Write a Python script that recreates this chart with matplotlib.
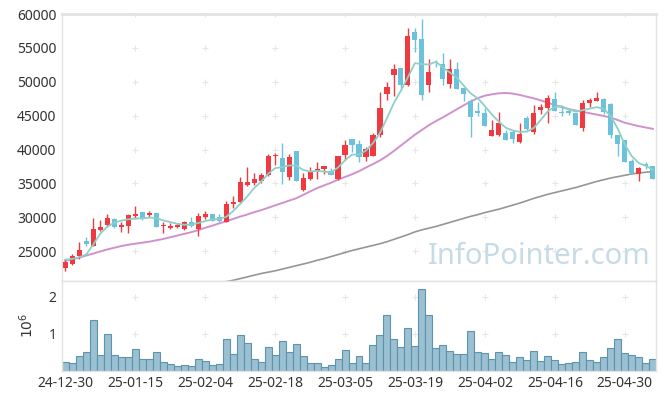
import numpy as np
import matplotlib.pyplot as plt

# -------------------------------
# DATA
# -------------------------------

tick_labels = ["24-12-30", "25-01-15", "25-02-04", "25-02-18", "25-03-05",
               "25-03-19", "25-04-02", "25-04-16", "25-04-30"]

opens = [22550, 23100, 24250, 26500, 25800, 28100, 28800, 29750, 28600, 28750,
         30200, 30800, 30400, 30650, 28650, 28350, 28550, 28250, 29250, 28300,
         30000, 30500, 30000, 29350, 31950, 32250, 34800, 35100, 35400, 36300,
         39100, 38800, 36000, 39850, 34050, 35700, 36850, 37200, 36900, 35600,
         39250, 41600, 40850, 38850, 39000, 42100, 48150, 51000, 52000, 49500,
         57300, 56300, 49500, 52950, 52600, 49600, 51850, 49050, 47150, 45700,
         45450, 42050, 42100, 42500, 42600, 41050, 44600, 42550, 45800, 46100,
         47400, 45600, 45650, 45400, 43150, 46850, 47200, 47400, 46750, 42200,
         41450, 38250, 36400, 37850, 37600]
highs = [23900, 24550, 26350, 27050, 29900, 29550, 30500, 29950, 29250, 30550,
         31700, 30850, 31000, 30650, 29250, 29200, 29150, 29500, 30000, 30600,
         30950, 30500, 30450, 32400, 33100, 35900, 37400, 36600, 36600, 39400,
         39500, 41000, 39350, 39850, 36600, 37350, 38150, 37600, 37250, 39100,
         41400, 41600, 41450, 40400, 42450, 48500, 49950, 52550, 52000, 57900,
         57900, 59300, 53400, 53200, 54300, 53400, 52850, 49050, 47400, 47050,
         46150, 44300, 45500, 42950, 42950, 43850, 44900, 46500, 46700, 48000,
         48550, 46250, 46150, 45400, 47300, 47650, 48500, 47600, 46900, 42200,
         41450, 38600, 37400, 38150, 37600]
lows = [22100, 22900, 23850, 25750, 25800, 28000, 28600, 28450, 27800, 27750,
        29950, 29650, 30000, 28600, 27700, 28250, 28450, 28100, 28500, 27300,
        29800, 29500, 29300, 29300, 31350, 32050, 34650, 34800, 35050, 36150,
        37700, 34950, 35550, 35400, 33950, 35550, 35700, 36450, 36200, 35550,
        38400, 39650, 38150, 38250, 39000, 41900, 47250, 47900, 48900, 49350,
        54450, 47250, 48550, 52200, 49500, 49150, 48950, 47150, 41850, 44900,
        43450, 41950, 42000, 41350, 40950, 40950, 42700, 42300, 45300, 43950,
        45650, 45000, 45100, 43600, 42800, 46300, 47150, 45300, 41700, 39100,
        38100, 36350, 35350, 37100, 35650]
closes = [23400, 24350, 25150, 26050, 28250, 28550, 29900, 28550, 28900, 30400,
          30550, 29750, 30650, 28600, 28900, 28700, 28900, 29250, 28700, 30200,
          30500, 29500, 29400, 31950, 32300, 35250, 35250, 35700, 36200, 39100,
          39250, 36750, 38900, 35400, 35850, 36850, 37150, 37500, 36300, 39100,
          40700, 40700, 38850, 40150, 42200, 46200, 49200, 51850, 49500, 56700,
          56200, 48050, 51400, 52700, 50400, 51850, 48950, 48200, 44800, 45350,
          43450, 42950, 43850, 41350, 41500, 42350, 43100, 45400, 46300, 47650,
          45650, 45450, 45400, 43600, 46900, 47250, 47650, 45600, 42100, 40850,
          38100, 36600, 37250, 37500, 35650]

# volume in millions
volumes = [0.23, 0.20, 0.39, 0.50, 1.36, 0.41, 0.98, 0.41, 0.36, 0.36,
           0.58, 0.31, 0.31, 0.50, 0.23, 0.17, 0.12, 0.14, 0.12, 0.31,
           0.25, 0.14, 0.17, 0.85, 0.44, 0.95, 0.74, 0.31, 0.23, 0.63,
           0.41, 0.79, 0.50, 0.71, 0.39, 0.20, 0.20, 0.09, 0.14, 0.31,
           0.55, 0.20, 0.39, 0.20, 0.68, 0.95, 1.50, 0.85, 0.63, 1.14,
           0.66, 2.20, 1.50, 0.60, 0.68, 0.52, 0.44, 0.44, 1.06, 0.50,
           0.47, 0.31, 0.50, 0.41, 0.23, 0.36, 0.28, 0.52, 0.25, 0.39,
           0.28, 0.17, 0.20, 0.23, 0.50, 0.28, 0.23, 0.36, 0.60, 0.85,
           0.47, 0.41, 0.36, 0.20, 0.31]

ma5 = [23750, 23850, 24100, 24500, 25950, 27550, 28600, 29200, 29500, 29700,
       29800, 29850, 29950, 29900, 29550, 29300, 29050, 28900, 28900, 29150,
       29450, 29650, 29750, 30050, 30900, 31950, 33050, 34300, 35250, 36400,
       37250, 37400, 37650, 37650, 37000, 36750, 36850, 36750, 36600, 37350,
       38400, 39250, 39250, 39850, 40950, 42450, 44650, 46900, 48700, 50700,
       52750, 52600, 52550, 52950, 52100, 51350, 50600, 49400, 48250, 47550,
       46400, 45150, 44100, 43200, 42800, 42600, 42650, 43200, 44400, 45650,
       46300, 46400, 45900, 45600, 45800, 46050, 46250, 46000, 44900, 43050,
       40700, 39000, 38000, 37600, 37000]
ma20 = [23600, 23800, 24050, 24350, 24650, 24950, 25250, 25500, 25750, 25950,
        26100, 26250, 26400, 26600, 26800, 27050, 27300, 27550, 27800, 28100,
        28450, 28750, 29100, 29400, 29750, 30100, 30400, 30750, 31050, 31400,
        31750, 32100, 32450, 32800, 33300, 33800, 34300, 34700, 35100, 35550,
        35950, 36350, 36800, 37350, 37850, 38400, 39050, 39800, 40600, 41400,
        42200, 42900, 43600, 44200, 44750, 45350, 45950, 46550, 47100, 47600,
        47950, 48150, 48300, 48350, 48250, 48050, 47800, 47550, 47250, 46900,
        46550, 46250, 45950, 45750, 45550, 45350, 45150, 44950, 44700, 44350,
        43950, 43700, 43450, 43250, 43050]
ma60_start = 20
ma60 = [19900, 20100, 20300, 20500, 20700, 20950, 21200, 21450, 21700, 21900,
        22100, 22350, 22600, 22850, 23100, 23350, 23650, 23900, 24200, 24500,
        24800, 25100, 25350, 25600, 25850, 26100, 26400, 26750, 27100, 27450,
        27850, 28150, 28400, 28650, 28950, 29250, 29550, 29850, 30150, 30400,
        30700, 30950, 31200, 31500, 31800, 32100, 32450, 32800, 33100, 33400,
        33650, 33900, 34150, 34400, 34700, 35000, 35300, 35550, 35800, 36000,
        36200, 36400, 36550, 36650, 36750]

# -------------------------------
# PLOT
# -------------------------------

plt.rcParams['font.family'] = ['Noto Sans', 'DejaVu Sans']

UP = '#ee3a40'
DOWN = '#6cc2da'
SPINE = '#e2e2e2'
TXT = '#333333'
CROSS = '#e6e6e6'

fig = plt.figure(figsize=(6.65, 3.99), dpi=100)
ax = fig.add_axes([62 / 665, 118 / 399, 594 / 665, 267 / 399])
axv = fig.add_axes([62 / 665, 28.5 / 399, 594 / 665, 89.5 / 399])

n = len(closes)
x = np.arange(n)
o = np.array(opens)
c = np.array(closes)
up = c >= o
colors = np.where(up, UP, DOWN)

# wicks and bodies
ax.vlines(x, lows, highs, colors=colors, linewidth=1.0, zorder=3)
body_low = np.minimum(o, c)
body_h = np.maximum(np.abs(c - o), 120)
ax.bar(x, body_h, bottom=body_low, width=0.72, color=colors, linewidth=0, zorder=4)

# moving averages
ax.plot(x, ma5, color='#8ed0c8', linewidth=1.3, zorder=5)
ax.plot(x, ma20, color='#d092cc', linewidth=1.4, zorder=2)
ax.plot(np.arange(ma60_start, ma60_start + len(ma60)), ma60, color='#969696',
        linewidth=1.2, zorder=2)

xlim = (-0.45, n - 0.55)
ax.set_xlim(xlim)
ax.set_ylim(20600, 60000)
yt = list(range(25000, 60001, 5000))
ax.set_yticks(yt)
ax.set_yticklabels([str(v) for v in yt], fontsize=10, color=TXT)
ax.set_xticks([])

xt = list(range(0, n, 10))
for xx in xt[1:]:
    ax.plot([xx] * len(yt), yt, linestyle='none', marker='+', ms=4,
            mew=0.8, color=CROSS, zorder=1)

# watermark
ax.text(0.803, 0.09, "InfoPointer.com", transform=ax.transAxes, ha='center',
        va='center', fontsize=21, color='#c6dbe6', zorder=6)

# volume
axv.bar(x, np.array(volumes) * 1e6, width=1.0, color='#9ac0d2',
        edgecolor='#5f93ab', linewidth=0.8)
axv.set_xlim(xlim)
axv.set_ylim(0, 2.42e6)
axv.set_yticks([1e6, 2e6])
axv.set_yticklabels(["1", "2"], fontsize=10, color=TXT)
axv.set_xticks(xt)
axv.set_xticklabels(tick_labels, fontsize=10, color=TXT)
axv.set_ylabel(r'$10^6$', fontsize=10, color=TXT, labelpad=8)
for xx in xt[1:]:
    axv.plot([xx, xx], [1e6, 2e6], linestyle='none', marker='+', ms=4,
             mew=0.8, color=CROSS, zorder=0)

for a in (ax, axv):
    a.tick_params(length=0, pad=4)
    for s in a.spines.values():
        s.set_color(SPINE)
        s.set_linewidth(1.0)
ax.spines['top'].set_linewidth(2.0)

fig.savefig("out.png", dpi=100)
